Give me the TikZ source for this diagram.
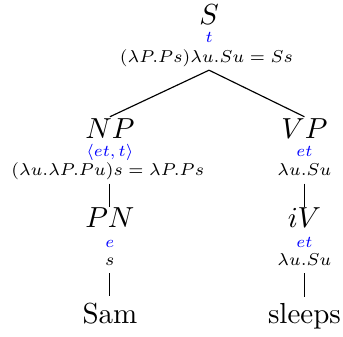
\documentclass[tikz,border=0pt]{standalone}
\begin{document}
\begin{tikzpicture}[x=1pt,y=1pt,
    cat/.style={anchor=base,inner sep=0.3pt},
    ty/.style={anchor=base,inner sep=0pt,font=\scriptsize,scale=0.81,transform shape,text=blue},
    sem/.style={anchor=base,inner sep=1.1pt,font=\scriptsize,scale=0.85,transform shape,text depth=2pt},
    word/.style={anchor=base,inner sep=2.3pt}]
  \useasboundingbox (0,0) rectangle (118.3,-115.9);
  % S
  \node[cat](S)at(72.1,-8.3){$S$};
  \node[ty](S-t)at(72.1,-14.5){$t$};
  \node[sem](S-l)at(71.2,-21.4){$(\lambda P.Ps)\lambda u.Su=Ss$};
  % NP and VP
  \node[cat](NP)at(37.9,-47.6){$NP$};
  \node[ty](NP-t)at(37.9,-54.1){$\langle et,t\rangle$};
  \node[sem](NP-l)at(37.2,-60.5){$(\lambda u.\lambda P.Pu)s=\lambda P.Ps$};
  \node[cat](VP)at(105,-47.6){$VP$};
  \node[ty](VP-t)at(105,-54.1){$et$};
  \node[sem](VP-l)at(105,-60.5){$\lambda u.Su$};
  % PN and iV
  \node[cat](PN)at(37.9,-78.6){$PN$};
  \node[ty](PN-t)at(37.9,-85.2){$e$};
  \node[sem](PN-l)at(37.9,-91.4){$s$};
  \node[cat](iV)at(105,-78.6){$iV$};
  \node[ty](iV-t)at(105,-85.2){$et$};
  \node[sem](iV-l)at(105,-91.4){$\lambda u.Su$};
  % words
  \node[word](Sam)at(37.9,-111.7){Sam};
  \node[word](sleeps)at(105,-111.7){sleeps};
  \draw(S-l.south -| S.south)--(NP.north);
  \draw(S-l.south -| S.south)--(VP.north);
  \draw(NP-l.south -| NP.south)--(PN.north);
  \draw(VP-l.south)--(iV.north);
  \draw(PN-l.south)--(Sam.north);
  \draw(iV-l.south)--(sleeps.north);
\end{tikzpicture}
\end{document}
